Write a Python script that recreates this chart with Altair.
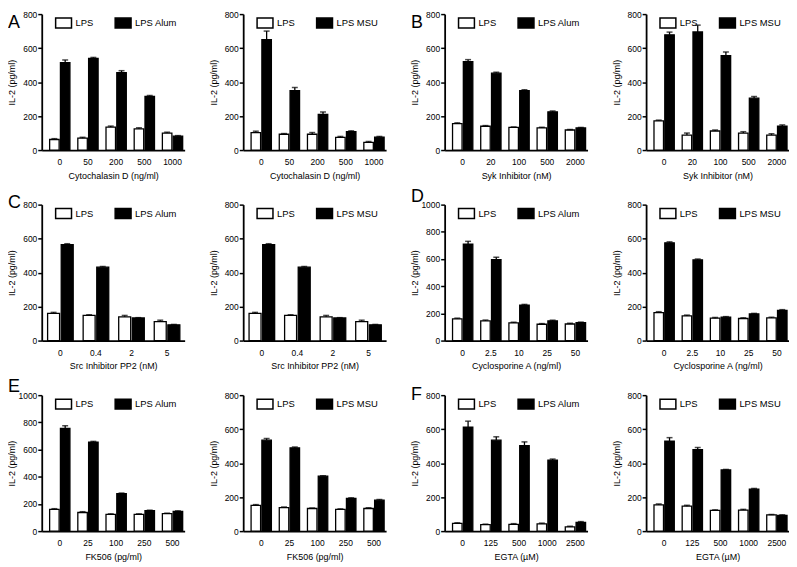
import altair as alt
import pandas as pd

FONT = "Liberation Sans"

# ---- categories / titles ----
A_DOSES = ["0", "50", "200", "500", "1000"]
B_DOSES = ["0", "20", "100", "500", "2000"]
C_DOSES = ["0", "0.4", "2", "5"]
D_DOSES = ["0", "2.5", "10", "25", "50"]
E_DOSES = ["0", "25", "100", "250", "500"]
F_DOSES = ["0", "125", "500", "1000", "2500"]

A_XTITLE = "Cytochalasin D (ng/ml)"
B_XTITLE = "Syk Inhibitor (nM)"
C_XTITLE = "Src Inhibitor PP2 (nM)"
D_XTITLE = "Cyclosporine A (ng/ml)"
E_XTITLE = "FK506 (pg/ml)"
F_XTITLE = "EGTA (µM)"

YTITLE = "IL-2 (pg/ml)"
LPS = "LPS"
ALUM = "LPS Alum"
MSU = "LPS MSU"

# ---- values (mean, SEM) ----
A1_LPS = [62, 70, 135, 125, 100]
A1_LPS_ERR = [5, 5, 6, 6, 5]
A1_STIM = [515, 540, 455, 315, 82]
A1_STIM_ERR = [15, 5, 12, 6, 3]

A2_LPS = [103, 93, 93, 74, 45]
A2_LPS_ERR = [8, 4, 10, 6, 5]
A2_STIM = [650, 350, 210, 108, 76]
A2_STIM_ERR = [50, 18, 14, 5, 4]

B1_LPS = [155, 140, 133, 130, 118]
B1_LPS_ERR = [5, 4, 3, 4, 3]
B1_STIM = [520, 452, 350, 225, 130]
B1_STIM_ERR = [12, 6, 5, 5, 3]

B2_LPS = [172, 88, 112, 100, 88]
B2_LPS_ERR = [4, 12, 6, 8, 8]
B2_STIM = [678, 695, 555, 305, 140]
B2_STIM_ERR = [16, 40, 22, 10, 8]

C1_LPS = [160, 148, 140, 112]
C1_LPS_ERR = [6, 4, 8, 8]
C1_STIM = [565, 432, 133, 93]
C1_STIM_ERR = [5, 4, 2, 2]

C2_LPS = [160, 148, 140, 112]
C2_LPS_ERR = [6, 4, 8, 8]
C2_STIM = [565, 432, 133, 93]
C2_STIM_ERR = [5, 4, 2, 2]

D1_LPS = [160, 145, 130, 120, 122]
D1_LPS_ERR = [5, 6, 5, 5, 5]
D1_STIM = [710, 595, 260, 145, 132]
D1_STIM_ERR = [20, 18, 6, 5, 4]

D2_LPS = [165, 145, 132, 130, 133]
D2_LPS_ERR = [5, 5, 4, 4, 5]
D2_STIM = [575, 475, 138, 157, 178]
D2_STIM_ERR = [6, 5, 3, 3, 4]

E1_LPS = [160, 137, 123, 123, 128]
E1_LPS_ERR = [5, 6, 4, 4, 4]
E1_STIM = [755, 655, 275, 150, 145]
E1_STIM_ERR = [20, 5, 5, 4, 4]

E2_LPS = [152, 138, 133, 128, 133]
E2_LPS_ERR = [4, 4, 3, 3, 4]
E2_STIM = [535, 490, 323, 192, 182]
E2_STIM_ERR = [10, 5, 3, 4, 4]

F1_LPS = [45, 38, 40, 43, 25]
F1_LPS_ERR = [4, 3, 4, 4, 3]
F1_STIM = [612, 535, 503, 418, 52]
F1_STIM_ERR = [35, 20, 22, 6, 4]

F2_LPS = [155, 147, 122, 124, 95]
F2_LPS_ERR = [5, 5, 3, 4, 3]
F2_STIM = [530, 480, 360, 247, 92]
F2_STIM_ERR = [20, 12, 3, 4, 4]

W = 144
H = 137


def panel(doses, lps, lps_err, stim, stim_err, stim_name, xtitle, ymax,
          letter=None, letter_y=-5):
    rows = []
    for i, d in enumerate(doses):
        rows.append({"dose": d, "series": LPS, "value": lps[i],
                     "top": lps[i] + lps_err[i]})
        rows.append({"dose": d, "series": stim_name, "value": stim[i],
                     "top": stim[i] + stim_err[i]})
    df = pd.DataFrame(rows)
    series = [LPS, stim_name]
    if len(doses) == 5:
        po, al = 0.175, 0.8
    else:
        po, al = 0.15, 0.55

    x = alt.X("dose:N", sort=doses,
              scale=alt.Scale(paddingInner=0.28, paddingOuter=po, align=al),
              axis=alt.Axis(title=xtitle, labelAngle=0, ticks=False, tickSize=0,
                            labelPadding=8, titlePadding=5, labelFontSize=8.5,
                            titleFontSize=9, domainWidth=1.8))
    xo = alt.XOffset("series:N", sort=series,
                     scale=alt.Scale(paddingInner=0.12))
    yscale = alt.Scale(domain=[0, ymax], nice=False, zero=True)
    yaxis = alt.Axis(title=YTITLE, values=list(range(0, ymax + 1, 200)),
                     tickCount=ymax // 200 + 1, format="d",
                     tickSize=4, labelPadding=1, labelFontSize=8.5,
                     titleFontSize=9, titleX=-25, labelOverlap=False,
                     titleBaseline="bottom", domainWidth=1.8,
                     tickWidth=1.5)
    base = alt.Chart(df)
    bars = base.mark_bar(stroke="black", strokeWidth=1.3).encode(
        x=x, xOffset=xo,
        y=alt.Y("value:Q", scale=yscale, axis=yaxis),
        fill=alt.Fill("series:N", sort=series,
                      scale=alt.Scale(domain=series, range=["white", "black"]),
                      legend=alt.Legend(title=None, orient="none", legendX=13,
                                        legendY=0, direction="horizontal",
                                        symbolType="M-1,-0.625H1V0.625H-1Z",
                                        symbolSize=256,
                                        symbolStrokeColor="black",
                                        symbolStrokeWidth=1.5,
                                        symbolOpacity=1,
                                        labelFontSize=9.5, labelOffset=3,
                                        columnPadding=19, padding=0,
                                        labelFont=FONT, labelColor="black")))
    err = base.mark_rule(color="black", strokeWidth=1.3).encode(
        x=x, xOffset=xo,
        y=alt.Y("value:Q", scale=yscale, axis=yaxis), y2="top:Q")
    cap = base.mark_tick(color="black", thickness=1.5, size=6).encode(
        x=x, xOffset=xo,
        y=alt.Y("top:Q", scale=yscale, axis=yaxis))
    layers = [bars, err, cap]
    if letter:
        txt = alt.Chart(pd.DataFrame({"t": [letter]})).mark_text(
            align="left", baseline="top", fontSize=18, font=FONT, color="black"
        ).encode(x=alt.value(-34), y=alt.value(letter_y), text="t:N")
        layers.append(txt)
    return alt.layer(*layers).properties(width=W, height=H)


panels = [
    panel(A_DOSES, A1_LPS, A1_LPS_ERR, A1_STIM, A1_STIM_ERR, ALUM, A_XTITLE, 800, "A", 0),
    panel(A_DOSES, A2_LPS, A2_LPS_ERR, A2_STIM, A2_STIM_ERR, MSU, A_XTITLE, 800),
    panel(B_DOSES, B1_LPS, B1_LPS_ERR, B1_STIM, B1_STIM_ERR, ALUM, B_XTITLE, 800, "B", 0),
    panel(B_DOSES, B2_LPS, B2_LPS_ERR, B2_STIM, B2_STIM_ERR, MSU, B_XTITLE, 800),
    panel(C_DOSES, C1_LPS, C1_LPS_ERR, C1_STIM, C1_STIM_ERR, ALUM, C_XTITLE, 800, "C", -11),
    panel(C_DOSES, C2_LPS, C2_LPS_ERR, C2_STIM, C2_STIM_ERR, MSU, C_XTITLE, 800),
    panel(D_DOSES, D1_LPS, D1_LPS_ERR, D1_STIM, D1_STIM_ERR, ALUM, D_XTITLE, 1000, "D", -17),
    panel(D_DOSES, D2_LPS, D2_LPS_ERR, D2_STIM, D2_STIM_ERR, MSU, D_XTITLE, 800),
    panel(E_DOSES, E1_LPS, E1_LPS_ERR, E1_STIM, E1_STIM_ERR, ALUM, E_XTITLE, 1000, "E", -17),
    panel(E_DOSES, E2_LPS, E2_LPS_ERR, E2_STIM, E2_STIM_ERR, MSU, E_XTITLE, 800),
    panel(F_DOSES, F1_LPS, F1_LPS_ERR, F1_STIM, F1_STIM_ERR, ALUM, F_XTITLE, 800, "F", -9),
    panel(F_DOSES, F2_LPS, F2_LPS_ERR, F2_STIM, F2_STIM_ERR, MSU, F_XTITLE, 800),
]

chart = alt.concat(
    *panels, columns=4, spacing={"row": 55, "column": 59}, bounds="flush"
).resolve_scale(
    x="independent", y="independent", fill="independent", xOffset="independent"
).resolve_legend(
    fill="independent"
).properties(
    padding={"left": 0, "top": 0, "right": 0, "bottom": 0}
).configure(
    font=FONT
).configure_view(
    stroke=None
).configure_axis(
    labelFont=FONT, titleFont=FONT, labelColor="black", titleColor="black",
    domainColor="black", tickColor="black", grid=False,
    titleFontWeight="normal"
)

chart.save("out.html", embed_options={"renderer": "svg", "actions": False})
